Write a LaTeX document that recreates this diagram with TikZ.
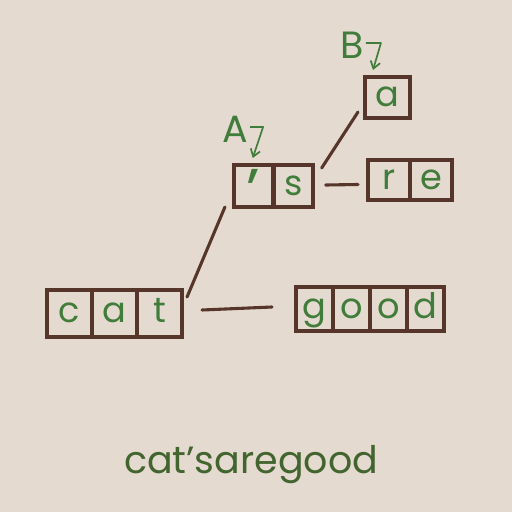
\documentclass[tikz,border=0pt]{standalone}
\usepackage{fontspec}
\setmainfont{Poppins}
\usetikzlibrary{positioning,calc,arrows.meta}
\definecolor{paper}{RGB}{229,218,208}
\definecolor{ink}{RGB}{86,54,42}
\definecolor{leaf}{RGB}{64,124,58}
\definecolor{olive}{RGB}{66,100,46}
\tikzset{
	cell/.style 2 args={draw=ink, line width=3.2pt, outer sep=0pt, inner sep=0pt,
		minimum width=#1, minimum height=#2, text height=13.5pt, text depth=0pt,
		text=leaf, font=\fontsize{25}{28}\selectfont},
	link/.style={draw=ink, line width=2.2pt, line cap=round},
	tag/.style={text=leaf, inner sep=0pt, font=\fontsize{27}{30}\selectfont},
	pointer/.style={draw=leaf, line width=1.2pt, line join=round, -{Straight Barb[length=5pt,width=7pt]}},
}
\begin{document}
\begin{tikzpicture}[x=0.025cm, y=-0.025cm]
			\fill[paper] (0,0) rectangle (512,512);
			% cat
			\node[cell={1.125cm}{1.175cm}] (c1) at (69.5,313.5) {c};
			\node[cell={1.125cm}{1.175cm}, right=0pt of c1] (c2) {a};
			\node[cell={1.125cm}{1.175cm}, right=0pt of c2] (c3) {t};
			% good
			\node[cell={0.925cm}{1.1cm}] (g1) at (314.5,309) {g};
			\node[cell={0.925cm}{1.1cm}, right=0pt of g1] (g2) {o};
			\node[cell={0.925cm}{1.1cm}, right=0pt of g2] (g3) {o};
			\node[cell={0.925cm}{1.1cm}, right=0pt of g3] (g4) {d};
			% 's
			\node[cell={0.99cm}{1.05cm}] (s1) at (253.75,186) {\raisebox{-12pt}{\fontsize{44}{44}\selectfont ’}};
			\node[cell={0.99cm}{1.05cm}, right=0pt of s1] (s2) {s};
			% re
			\node[cell={1.05cm}{1cm}] (r1) at (389,180) {r};
			\node[cell={1.05cm}{1cm}, right=0pt of r1] (r2) {e};
			% a
			\node[cell={1.125cm}{1.025cm}] (a1) at (387.5,97.5) {a};
			
			\draw[link] ([shift={(5,-16.5)}]c3.east)--([shift={(-9,0)}]s1.south west);
			\draw[link] ([shift={(20,-3.5)}]c3.east)--([shift={(-24,-2)}]g1.west);
			\draw[link] ([shift={(8.5,3)}]s2.north east)--([shift={(-7,-6)}]a1.south west);
			\draw[link] ([shift={(12.5,-1)}]s2.east)--([shift={(-10,4.5)}]r1.west);
			
			\node[tag] (A) at (235,129) {A};
			\node[tag] (B) at (352,45) {B};
			\draw[pointer] ([shift={(2,-2)}]A.east)--++(13,0)--([shift={(-1,-7)}]s1.north);
			\draw[pointer] ([shift={(2,-2)}]B.east)--++(15,0)--([shift={(-14.5,-7)}]a1.north);
			
			\node[anchor=base, text=olive, font=\fontsize{27}{30}\selectfont] (phrase) at (251,473) {cat’saregood};
		\end{tikzpicture}
\end{document}
